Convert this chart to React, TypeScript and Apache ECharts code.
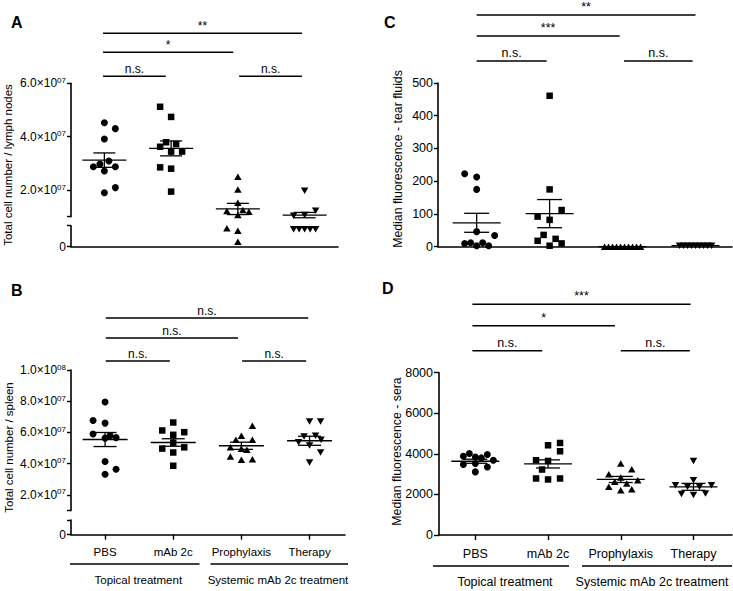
import React, { useEffect, useRef } from 'react';
import * as echarts from 'echarts';

const FONT = '"Liberation Sans", Arial, Helvetica, sans-serif';

// ---------- labels ----------
const categories = ['PBS', 'mAb 2c', 'Prophylaxis', 'Therapy'];
const groupLabels = ['Topical treatment', 'Systemic mAb 2c treatment'];
const panelLetters = ['A', 'B', 'C', 'D'];
const yTitles = [
  'Total cell number / lymph nodes',
  'Total cell number / spleen',
  'Median fluorescence - tear fluids',
  'Median fluorescence - sera',
];

// ---------- Panel A: lymph nodes (units of 10^7 cells) ----------
const E7 = 1e7;
const aPBS = [4.52, 4.3, 3.91, 3.09, 2.97, 2.87, 2.87, 2.71, 2.09, 1.9];
const aMab = [5.12, 4.74, 3.79, 3.72, 3.62, 3.44, 3.44, 2.85, 2.8, 1.94];
const aProph = [2.5, 2.02, 1.52, 1.25, 1.21, 1.19, 1.06, 0.88, 0.76, 0.24];
const aTher = [1.97, 1.22, 1.06, 1.04, 0.83, 0.83, 0.83, 0.83, 0.83];
const aMean = [3.12, 3.56, 1.29, 1.06];
const aSem = [0.27, 0.28, 0.21, 0.1];
const aYTicks = [2, 4, 6];
const aBrackets: [number, number, number, string][] = [
  [-0.02, 0.92, 0, 'n.s.'],
  [2.02, 2.96, 0, 'n.s.'],
  [-0.02, 1.93, 1, '*'],
  [-0.02, 2.96, 2, '**'],
];

// ---------- Panel B: spleen (units of 10^7 cells) ----------
const bPBS = [7.95, 6.77, 6.6, 5.9, 5.8, 5.67, 5.64, 4.14, 3.65, 3.33];
const bMab = [6.64, 6.13, 6.02, 5.85, 5.35, 5.05, 4.97, 4.72, 3.87];
const bProph = [6.43, 5.79, 5.53, 5.53, 5.06, 4.96, 4.89, 4.46, 4.29, 4.25];
const bTher = [6.71, 6.71, 5.79, 5.74, 5.53, 5.38, 5.17, 4.72, 4.08];
const bMean = [5.55, 5.36, 5.15, 5.47];
const bSem = [0.45, 0.24, 0.23, 0.29];
const bYTicks = [2, 4, 6, 8, 10];
const bBrackets: [number, number, number, string][] = [
  [0.01, 0.95, 0, 'n.s.'],
  [2.01, 2.95, 0, 'n.s.'],
  [0.01, 1.95, 1, 'n.s.'],
  [0.01, 2.98, 2, 'n.s.'],
];

// ---------- Panel C: tear fluids ----------
const cPBS = [223, 213, 175, 46, 34, 12, 12, 10, 3, 3];
const cMab = [461, 175, 112, 92, 82, 36, 24, 18, 10, 3];
const cProph = [0, 0, 0, 0, 0, 0, 0, 0, 0, 0];
const cTher = [3, 3, 3, 3, 3, 3, 3, 3, 3];
const cMean = [73, 101, 0, 3];
const cSem = [29, 43, 0, 0];
const cBrackets: [number, number, number, string][] = [
  [0, 0.96, 0, 'n.s.'],
  [2.02, 2.96, 0, 'n.s.'],
  [0, 1.96, 1, '***'],
  [0, 3.0, 2, '**'],
];

// ---------- Panel D: sera ----------
const dPBS = [4015, 3965, 3882, 3848, 3800, 3686, 3523, 3474, 3356, 3111];
const dMab = [4536, 4423, 4128, 3686, 3651, 3228, 2786, 2786, 2737];
const dProph = [3523, 3243, 2998, 2835, 2703, 2620, 2540, 2374, 2260, 2211];
const dTher = [3651, 2703, 2457, 2457, 2380, 2380, 2048, 2015, 1966];
const dMean = [3636, 3504, 2737, 2374];
const dSem = [100, 200, 150, 170];
const dBrackets: [number, number, number, string][] = [
  [-0.04, 0.92, 0, 'n.s.'],
  [2.0, 2.95, 0, 'n.s.'],
  [-0.04, 1.92, 1, '*'],
  [-0.04, 2.96, 2, '***'],
];

// ---------- horizontal scatter spread of points (px), column-scatter layout ----------
const aJitter = [
  [0, 11, 0, 4.5, -4.5, -11, 11, 0, 11, 0],
  [-11, 0, -5, 5, -11, 0, 11, -11, 0, 0],
  [0, 0, 0, 5, -11, 11, 0, -11, 0, 0],
  [0, 11, 0, -11, -11, -5.5, 0, 5.5, 11],
];
const bJitter = [
  [0, -12, 0, -12, 5, 11, 0, 0, 11, 0],
  [0, -11, 11, 0, 0, 11, -11, 0, 0],
  [11, 0, -5.5, 11, -11, 0, 5.5, -11, 11, 0],
  [0, 11, 6, -5.5, 11.5, -11, 0, 11, 0],
];
const cJitter = [
  [-12, 0, 0, 0, 18, -6, 6, -12, 0, 12],
  [0, 0, 12, -12, 0, -6, 6, -12, 12, 0],
  [-18, -14, -10, -6, -2, 2, 6, 10, 14, 18],
  [-16, -12, -8, -4, 0, 4, 8, 12, 16],
];
const dJitter = [
  [-6, 12, -12, 0, 6, 18, 0, -12, 12, 0],
  [12, 0, 12, -12, 0, -6, -12, 12, 0],
  [0, 11, -12, 0, 17, -6, 6, -12, 11, 0],
  [0, 0, -18, 18, -6, 6, 12, -12, 0],
];

const SYMBOLS: { symbol: string; size: number | number[] }[] = [
  { symbol: 'circle', size: 7 },
  { symbol: 'rect', size: 6.5 },
  { symbol: 'triangle', size: [7.5, 6.5] },
  { symbol: 'path://M0,0L10,0L5,8.7Z', size: [7.5, 6.5] },
];

const AXIS_LINE = { color: '#000', width: 1.6 };

function sciLabel(v: number) {
  if (v === 0) return '0';
  const exp = Math.floor(Math.log10(v) + 1e-9);
  const m = v / Math.pow(10, exp);
  return `{m|${m.toFixed(1)}×10}{e|${String(exp).padStart(2, '0')}}`;
}

function buildOption() {
  const grid: any[] = [];
  const xAxis: any[] = [];
  const yAxis: any[] = [];
  const series: any[] = [];
  const graphic: any[] = [];

  const addAxes = (rect: any, x: any, y: any) => {
    const i = grid.length;
    grid.push({ ...rect, containLabel: false, outerBoundsMode: 'none' });
    xAxis.push({ type: 'value', gridIndex: i, splitLine: { show: false }, ...x });
    yAxis.push({ type: 'value', gridIndex: i, splitLine: { show: false }, ...y });
    return i;
  };

  const hiddenX = (min: number, max: number) => ({ min, max, show: false });
  const bottomX = (min: number, max: number, withLabels: boolean, fontSize: number, margin: number) => ({
    min,
    max,
    axisLine: { show: true, onZero: false, lineStyle: AXIS_LINE },
    axisTick: {
      show: withLabels,
      customValues: [0, 1, 2, 3],
      length: 5,
      lineStyle: { color: '#000', width: 1.4 },
    },
    axisLabel: {
      show: withLabels,
      customValues: [0, 1, 2, 3],
      formatter: (v: number) => categories[Math.round(v)],
      color: '#000',
      fontFamily: FONT,
      fontSize,
      margin,
    },
  });

  const yBase = (min: number, max: number, tickVals: number[] | null, labelVals: number[] | null, fontSize: number, margin: number, tickLen: number, sci: boolean, interval?: number) => ({
    min,
    max,
    ...(interval ? { interval } : {}),
    axisLine: { show: true, onZero: false, lineStyle: AXIS_LINE },
    axisTick: {
      show: true,
      length: tickLen,
      lineStyle: { color: '#000', width: 1.4 },
      ...(tickVals ? { customValues: tickVals } : {}),
    },
    axisLabel: {
      show: true,
      ...(labelVals ? { customValues: labelVals } : {}),
      color: '#000',
      fontFamily: FONT,
      fontSize,
      margin,
      ...(sci
        ? {
            formatter: sciLabel,
            rich: {
              m: { fontSize, fontFamily: FONT, color: '#000', lineHeight: 14 },
              e: { fontSize: 8, fontFamily: FONT, color: '#000', lineHeight: 8, verticalAlign: 'top' },
            },
          }
        : { formatter: (v: number) => String(v) }),
    },
  });

  const addScatter = (idx: number, ci: number, vals: number[], dxs: number[]) => {
    if (!vals.length) return;
    const sym = SYMBOLS[ci];
    series.push({
      type: 'scatter',
      xAxisIndex: idx,
      yAxisIndex: idx,
      symbol: sym.symbol,
      symbolSize: sym.size,
      clip: false,
      silent: true,
      itemStyle: { color: '#000', opacity: 1 },
      data: vals.map((v, k) => ({ value: [ci, v], symbolOffset: [dxs[k], 0] })),
    });
  };

  const addMeans = (idx: number, means: number[], sems: number[], halfMean: number, halfCap: number) => {
    series.push({
      type: 'custom',
      coordinateSystem: 'cartesian2d',
      xAxisIndex: idx,
      yAxisIndex: idx,
      clip: false,
      silent: true,
      data: means.map((m, i) => [i, m, sems[i]]),
      renderItem: (_p: any, api: any) => {
        const x = api.value(0);
        const m = api.value(1);
        const s = api.value(2);
        const c = api.coord([x, m]);
        const t = api.coord([x, m + s]);
        const b = api.coord([x, m - s]);
        const st = { stroke: '#000', lineWidth: 1.3 };
        const children: any[] = [
          { type: 'line', shape: { x1: c[0] - halfMean, y1: c[1], x2: c[0] + halfMean, y2: c[1] }, style: st },
        ];
        if (s > 0) {
          children.push(
            { type: 'line', shape: { x1: c[0], y1: t[1], x2: c[0], y2: b[1] }, style: st },
            { type: 'line', shape: { x1: c[0] - halfCap, y1: t[1], x2: c[0] + halfCap, y2: t[1] }, style: st },
            { type: 'line', shape: { x1: c[0] - halfCap, y1: b[1], x2: c[0] + halfCap, y2: b[1] }, style: st },
          );
        }
        return { type: 'group', children };
      },
    });
  };

  const addBrackets = (idx: number, br: [number, number, number, string][], topVal: number, offsets: number[], fontSize: number) => {
    series.push({
      type: 'custom',
      coordinateSystem: 'cartesian2d',
      xAxisIndex: idx,
      yAxisIndex: idx,
      clip: false,
      silent: true,
      data: br.map((b) => [b[0], b[1], b[2]]),
      renderItem: (params: any, api: any) => {
        const p1 = api.coord([api.value(0), topVal]);
        const p2 = api.coord([api.value(1), topVal]);
        const y = p1[1] - offsets[api.value(2)];
        const label = br[params.dataIndex][3];
        return {
          type: 'group',
          children: [
            { type: 'line', shape: { x1: p1[0], y1: y, x2: p2[0], y2: y }, style: { stroke: '#000', lineWidth: 1.5 } },
            {
              type: 'text',
              x: (p1[0] + p2[0]) / 2,
              y: y - 1.5,
              style: { text: label, fill: '#000', fontSize, fontFamily: FONT, align: 'center', verticalAlign: 'bottom' },
            },
          ],
        };
      },
    });
  };

  // ----- Panel A (broken axis: two grids) -----
  const aX = { left: 71, width: 267 };
  const aUp = addAxes({ ...aX, top: 83.3, height: 133.4 }, hiddenX(-0.5, 3.5),
    yBase(1 * E7, 6 * E7, [1 * E7, ...aYTicks.map((t) => t * E7)], aYTicks.map((t) => t * E7), 12, 5, 4, true));
  const aLo = addAxes({ ...aX, top: 225.7, height: 21 }, bottomX(-0.5, 3.5, false, 12, 10),
    yBase(0, 1 * E7, [0, 1 * E7], [0], 12, 5, 4, true));
  const aCols = [aPBS, aMab, aProph, aTher];
  aCols.forEach((col, ci) => {
    const up: number[] = [], upDx: number[] = [], lo: number[] = [], loDx: number[] = [];
    col.forEach((v, k) => {
      if (v >= 1) { up.push(v * E7); upDx.push(aJitter[ci][k]); } else { lo.push(v * E7); loDx.push(aJitter[ci][k]); }
    });
    addScatter(aUp, ci, up, upDx);
    addScatter(aLo, ci, lo, loDx);
  });
  addMeans(aUp, aMean.map((m) => m * E7), aSem.map((s) => s * E7), 22, 11);
  addBrackets(aUp, aBrackets, 6 * E7, [7, 31, 50], 12);

  // ----- Panel B (broken axis: two grids) -----
  const bX = { left: 71, width: 274 };
  const bUp = addAxes({ ...bX, top: 370, height: 140.6 }, hiddenX(-0.5, 3.52),
    yBase(1 * E7, 10 * E7, [1 * E7, ...bYTicks.map((t) => t * E7)], bYTicks.map((t) => t * E7), 12, 5, 4, true));
  const bLo = addAxes({ ...bX, top: 520, height: 14.7 }, bottomX(-0.5, 3.52, true, 11.5, 11),
    yBase(0, 1 * E7, [0, 1 * E7], [0], 12, 5, 4, true));
  [bPBS, bMab, bProph, bTher].forEach((col, ci) => {
    addScatter(bUp, ci, col.map((v) => v * E7), bJitter[ci]);
  });
  addMeans(bUp, bMean.map((m) => m * E7), bSem.map((s) => s * E7), 22.5, 11.5);
  addBrackets(bUp, bBrackets, 10 * E7, [9, 32, 52], 12);

  // ----- Panel C -----
  const cI = addAxes({ left: 438, top: 83, width: 294, height: 163.7 }, bottomX(-0.53, 3.5, false, 12, 10),
    yBase(0, 500, null, null, 12.5, 5, 4, false, 100));
  [cPBS, cMab, cProph, cTher].forEach((col, ci) => addScatter(cI, ci, col, cJitter[ci]));
  addMeans(cI, cMean, cSem, 24, 12.5);
  addBrackets(cI, cBrackets, 500, [22, 47, 68], 12.5);

  // ----- Panel D -----
  const dI = addAxes({ left: 439, top: 372.7, width: 293, height: 162.3 }, bottomX(-0.5, 3.53, true, 12.5, 12),
    yBase(0, 8000, null, null, 12.5, 6, 5, false, 2000));
  [dPBS, dMab, dProph, dTher].forEach((col, ci) => addScatter(dI, ci, col, dJitter[ci]));
  addMeans(dI, dMean, dSem, 24, 12);
  addBrackets(dI, dBrackets, 8000, [22, 47, 68.5], 12.5);

  // ----- panel letters -----
  const letterPos = [[11, 14], [11, 282], [384, 14], [382, 280]];
  panelLetters.forEach((l, i) => {
    graphic.push({
      type: 'text', x: letterPos[i][0], y: letterPos[i][1],
      style: { text: l, fill: '#000', fontSize: 16, fontWeight: 'bold', fontFamily: FONT, align: 'left', verticalAlign: 'top' },
    });
  });

  // ----- y axis titles -----
  const titlePos = [[8, 165, 11.5], [8.5, 447.5, 11.5], [398, 159, 12.3], [397, 451.5, 12.3]];
  yTitles.forEach((t, i) => {
    graphic.push({
      type: 'text', x: titlePos[i][0], y: titlePos[i][1], rotation: Math.PI / 2,
      style: { text: t, fill: '#000', fontSize: titlePos[i][2], fontFamily: FONT, align: 'center', verticalAlign: 'middle' },
    });
  });

  // ----- treatment group bars under B and D -----
  const groupRows = [
    { y: 564, segs: [[70, 199.5], [210.5, 348]], ty: 580, tx: [138.3, 278], fs: 11.5 },
    { y: 566, segs: [[433, 569], [582, 732]], ty: 581.5, tx: [505, 652], fs: 12.5 },
  ];
  groupRows.forEach((g) => {
    g.segs.forEach((s, k) => {
      graphic.push({ type: 'line', shape: { x1: s[0], y1: g.y, x2: s[1], y2: g.y }, style: { stroke: '#000', lineWidth: 1.5 } });
      graphic.push({
        type: 'text', x: g.tx[k], y: g.ty,
        style: { text: groupLabels[k], fill: '#000', fontSize: g.fs, fontFamily: FONT, align: 'center', verticalAlign: 'middle' },
      });
    });
  });

  return {
    animation: false,
    backgroundColor: '#fff',
    textStyle: { fontFamily: FONT },
    grid,
    xAxis,
    yAxis,
    series,
    graphic,
  };
}

export default function App() {
  const ref = useRef<HTMLDivElement>(null);
  useEffect(() => {
    if (!ref.current) return;
    const chart = echarts.init(ref.current, undefined, { renderer: 'svg' });
    chart.setOption(buildOption() as any);
    return () => chart.dispose();
  }, []);
  return (
    <div
      ref={ref}
      style={{ position: 'fixed', left: 0, top: 0, width: 733, height: 591, background: '#fff' }}
    />
  );
}
